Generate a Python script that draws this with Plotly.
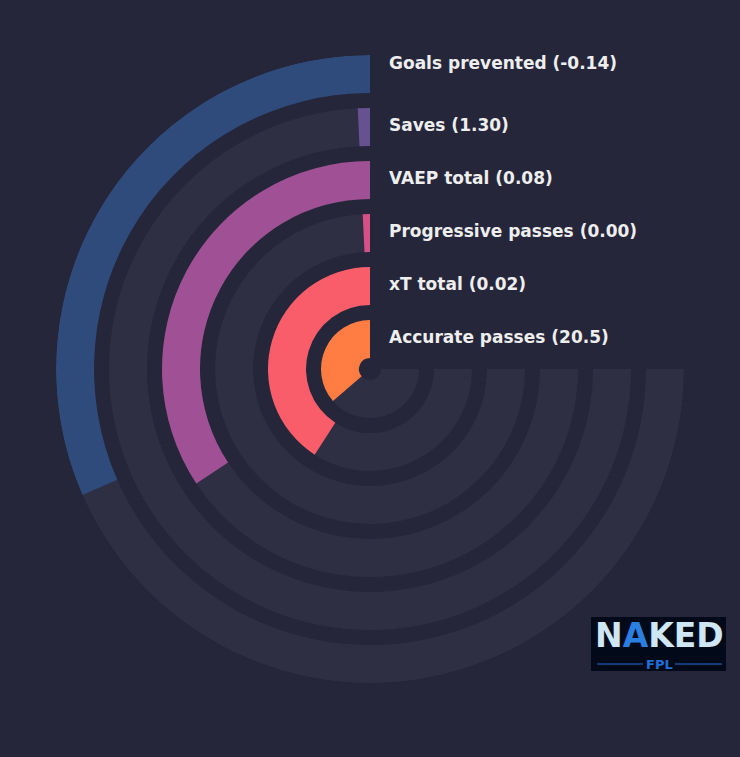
import plotly.graph_objects as go

# ---- data ----
categories = ["Accurate passes", "xT total", "Progressive passes",
              "VAEP total", "Saves", "Goals prevented"]
stat_values = ["20.5", "0.02", "0.00", "0.08", "1.30", "-0.14"]
percentiles = [48.5, 54.5, 1.0, 45.7, 1.0, 42.1]
colors = ["#ff7c43", "#f95d6a", "#d45087", "#a05195", "#665191", "#2f4b7c"]

# ---- layout constants ----
W, H = 740, 757
BG = "#25263a"
TRACK = "#2e2f43"
CX, CY = 370, 369          # centre of the polar in pixels (from top-left)
R_MAX = 314
THICK = 38
STEP = 53
SWEEP = 270.0              # degrees for 100%

fig = go.Figure()

inners = [R_MAX - THICK - STEP * (len(categories) - 1 - i) for i in range(len(categories))]

# background tracks
for i, cat in enumerate(categories):
    fig.add_trace(go.Barpolar(
        r=[THICK], base=[inners[i]], theta=[SWEEP / 2], width=[SWEEP],
        marker=dict(color=TRACK, line=dict(width=0)),
        hoverinfo="skip", showlegend=False))

# value bars
for i, cat in enumerate(categories):
    w = percentiles[i] / 100.0 * SWEEP
    fig.add_trace(go.Barpolar(
        r=[THICK], base=[inners[i]], theta=[w / 2], width=[w],
        marker=dict(color=colors[i], line=dict(width=0)),
        name=cat, showlegend=False))

# labels
annotations = []
label_adjust = [2, 2, 2, 2, 2, 11]
for i, cat in enumerate(categories):
    y_px = CY - (inners[i] + THICK / 2) - label_adjust[i]
    annotations.append(dict(
        x=387 / W, y=1 - y_px / H, xref="paper", yref="paper",
        xanchor="left", yanchor="middle", showarrow=False,
        text=f"<b>{cat} ({stat_values[i]})</b>",
        font=dict(family="DejaVu Sans", size=17, color="#eeeeee")))

# logo (as text)
annotations.append(dict(
    x=659 / W, y=1 - 635 / H, xref="paper", yref="paper",
    xanchor="center", yanchor="middle", showarrow=False,
    text="<b>N<span style='color:#2a7fe0'>A</span>KED</b>",
    font=dict(family="DejaVu Sans", size=33, color="#cfe6f5")))
annotations.append(dict(
    x=659 / W, y=1 - 664 / H, xref="paper", yref="paper",
    xanchor="center", yanchor="middle", showarrow=False,
    text="<b>FPL</b>",
    font=dict(family="DejaVu Sans", size=13, color="#1f6fd6")))

shapes = [
    dict(type="rect", xref="paper", yref="paper",
         x0=591 / W, x1=726 / W, y0=1 - 671 / H, y1=1 - 617 / H,
         fillcolor="#020a1a", line=dict(width=0), layer="below"),
    dict(type="line", xref="paper", yref="paper",
         x0=597 / W, x1=643 / W, y0=1 - 664 / H, y1=1 - 664 / H,
         line=dict(color="#1f6fd6", width=1)),
    dict(type="line", xref="paper", yref="paper",
         x0=675 / W, x1=722 / W, y0=1 - 664 / H, y1=1 - 664 / H,
         line=dict(color="#1f6fd6", width=1)),
]

fig.update_layout(
    width=W, height=H,
    paper_bgcolor=BG, plot_bgcolor=BG,
    margin=dict(l=0, r=0, t=0, b=0),
    barmode="overlay",
    polar=dict(
        domain=dict(x=[(CX - R_MAX) / W, (CX + R_MAX) / W],
                    y=[(H - CY - R_MAX) / H, (H - CY + R_MAX) / H]),
        bgcolor=BG,
        barmode="overlay",
        radialaxis=dict(range=[0, R_MAX], visible=False, showgrid=False),
        angularaxis=dict(rotation=90, direction="counterclockwise",
                         visible=False, showgrid=False),
    ),
    annotations=annotations,
    shapes=shapes,
)

fig.write_html(
    "out.html",
    config={"displayModeBar": False},
    post_script="document.body.style.margin='0';document.body.style.overflow='hidden';"
                "document.body.style.background='" + BG + "';",
)
